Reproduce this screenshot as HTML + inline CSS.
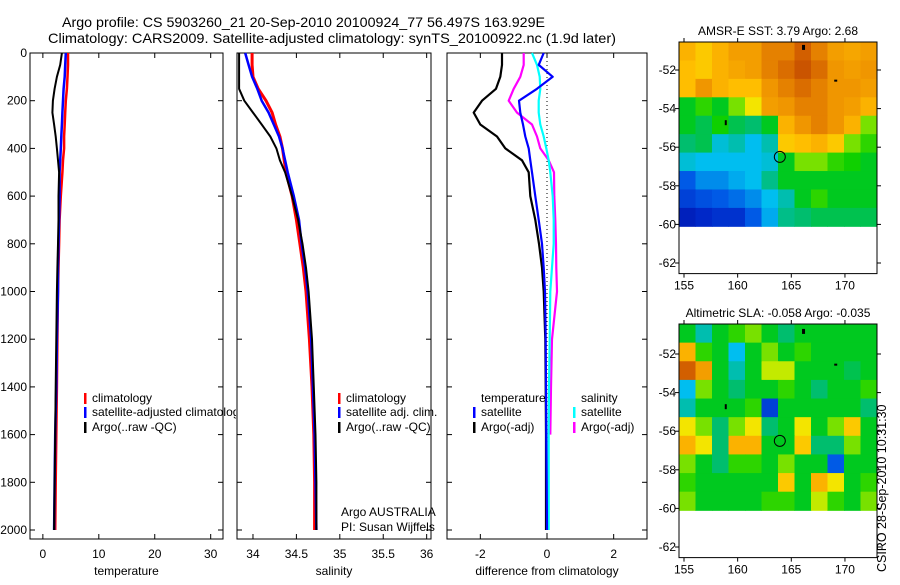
<!DOCTYPE html>
<html><head><meta charset="utf-8"><style>
body{margin:0;background:#fff;width:900px;height:580px;overflow:hidden}
svg{font-family:"Liberation Sans",sans-serif;font-size:12px}
</style></head><body>
<svg id="fig" width="900" height="580" viewBox="0 0 900 580" xmlns="http://www.w3.org/2000/svg">
<text x="62" y="27" font-size="14" textLength="483" lengthAdjust="spacingAndGlyphs">Argo profile: CS 5903260_21 20-Sep-2010 20100924_77 56.497S 163.929E</text>
<text x="48" y="43" font-size="14" textLength="568" lengthAdjust="spacingAndGlyphs">Climatology: CARS2009. Satellite-adjusted climatology: synTS_20100922.nc (1.9d later)</text>
<text x="886" y="572" transform="rotate(-90 886 572)" font-size="12.5">CSIRO 28-Sep-2010 10:31:30</text>
</svg>
<script>
const depths=[0,50,100,150,200,250,300,350,400,450,500,600,700,800,900,1000,1200,1400,1600,1800,2000];
const tempClim=[4.5,4.5,4.4,4.3,4.1,4.0,3.9,3.8,3.8,3.6,3.5,3.2,3.0,2.9,2.8,2.7,2.6,2.5,2.4,2.3,2.2];
const tempSat=[4.1,4.0,3.9,3.7,3.6,3.5,3.4,3.3,3.2,3.1,3.0,3.0,2.9,2.8,2.7,2.7,2.5,2.4,2.2,2.1,2.0];
const tempArgo=[3.4,3.1,2.5,2.1,1.8,1.7,2.0,2.3,2.5,2.7,2.9,2.8,2.8,2.7,2.6,2.5,2.4,2.3,2.2,2.1,2.0];
const salClim=[33.99,33.99,34.0,34.06,34.15,34.22,34.26,34.31,34.34,34.36,34.38,34.45,34.5,34.54,34.58,34.61,34.65,34.68,34.7,34.71,34.71];
const salSat=[33.91,33.95,33.99,34.05,34.1,34.18,34.24,34.3,34.34,34.37,34.4,34.47,34.53,34.56,34.6,34.63,34.67,34.69,34.71,34.72,34.73];
const salArgo=[33.84,33.84,33.84,33.84,33.9,34.0,34.1,34.2,34.27,34.31,34.37,34.45,34.52,34.57,34.61,34.64,34.68,34.7,34.72,34.73,34.73];
const diffTSat=[-0.1,-0.25,0.17,-0.3,-0.84,-0.8,-0.72,-0.65,-0.55,-0.5,-0.45,-0.35,-0.25,-0.15,-0.1,-0.06,-0.04,-0.03,-0.02,-0.01,0.0];
const diffTArgo=[-1.35,-1.35,-1.4,-1.53,-1.95,-2.2,-2.0,-1.5,-1.25,-0.75,-0.55,-0.5,-0.35,-0.24,-0.15,-0.1,-0.05,-0.04,-0.03,-0.03,-0.03];
const diffSSat=[-0.45,-0.3,-0.22,-0.2,-0.25,-0.25,-0.2,-0.1,-0.02,0.05,0.1,0.17,0.2,0.2,0.15,0.1,0.08,0.06,0.05,0.05,0.05];
const diffSArgo=[-0.7,-0.7,-0.8,-1.0,-1.15,-0.9,-0.45,-0.3,-0.2,0.05,0.21,0.22,0.25,0.27,0.28,0.3,0.15,0.12,0.1,null,null];
const depthTicks=[0,200,400,600,800,1000,1200,1400,1600,1800,2000];
const tTicks=[0,10,20,30], sTicks=[34,34.5,35,35.5,36], dTicks=[-2,0,2];
const lonTicks=[155,160,165,170], latTicks=[-52,-54,-56,-58,-60,-62];
const sstGrid=[
[0.75,0.7,0.75,0.8,0.8,0.85,0.85,0.9,0.85,0.8,0.78,0.8],
[0.72,0.7,0.75,0.78,0.8,0.85,0.88,0.92,0.88,0.82,0.8,0.82],
[0.72,0.82,0.75,0.72,0.72,0.82,0.85,0.88,0.85,0.82,0.82,0.8],
[0.45,0.5,0.45,0.55,0.65,0.8,0.82,0.85,0.85,0.82,0.8,0.75],
[0.45,0.42,0.48,0.42,0.4,0.45,0.75,0.82,0.85,0.82,0.75,0.55],
[0.4,0.42,0.32,0.35,0.3,0.35,0.7,0.72,0.75,0.7,0.55,0.5],
[0.32,0.3,0.3,0.3,0.3,0.32,0.45,0.55,0.55,0.5,0.48,0.45],
[0.2,0.25,0.25,0.28,0.3,0.38,0.45,0.45,0.45,0.45,0.45,0.45],
[0.15,0.18,0.2,0.22,0.25,0.3,0.35,0.45,0.5,0.45,0.45,0.45],
[0.08,0.1,0.12,0.12,0.2,0.28,0.38,0.4,0.42,0.42,0.42,0.42]];
const slaGrid=[
[0.45,0.35,0.45,0.5,0.55,0.45,0.4,0.45,0.45,0.45,0.45,0.45],
[0.75,0.5,0.45,0.3,0.45,0.55,0.45,0.5,0.45,0.45,0.45,0.45],
[0.9,0.8,0.45,0.35,0.45,0.6,0.6,0.45,0.45,0.45,0.42,0.45],
[0.3,0.55,0.45,0.4,0.45,0.45,0.5,0.45,0.4,0.45,0.45,0.5],
[0.35,0.45,0.45,0.45,0.5,0.15,0.45,0.45,0.45,0.45,0.45,0.4],
[0.65,0.55,0.4,0.55,0.65,0.4,0.45,0.65,0.45,0.55,0.7,0.45],
[0.75,0.65,0.4,0.75,0.75,0.45,0.45,0.7,0.4,0.4,0.55,0.45],
[0.55,0.45,0.4,0.5,0.5,0.45,0.55,0.45,0.45,0.2,0.45,0.45],
[0.5,0.45,0.45,0.45,0.45,0.45,0.7,0.45,0.75,0.65,0.45,0.5],
[0.55,0.45,0.45,0.45,0.45,0.5,0.5,0.45,0.6,0.5,0.45,0.55]];
const argoLon=163.93, argoLat=-56.5;

const NS='http://www.w3.org/2000/svg', svg=document.getElementById('fig');
function el(t,a,p){const e=document.createElementNS(NS,t);for(const k in a)e.setAttribute(k,a[k]);(p||svg).appendChild(e);return e;}
const yD=d=>53+d*0.2385;
const panels=[
 {x0:30,x1:223,vmin:-2.3,vmax:32.2,ticks:tTicks,label:'temperature',name:'temperature'},
 {x0:237,x1:431,vmin:33.816,vmax:36.05,ticks:sTicks,label:'salinity',name:'salinity'},
 {x0:447,x1:647,vmin:-3.0,vmax:3.0,ticks:dTicks,label:'difference from climatology',name:'difference'}];
panels.forEach((p,i)=>{p.sx=v=>p.x0+(v-p.vmin)/(p.vmax-p.vmin)*(p.x1-p.x0);});
function line(p,vals,color,w,name){
  let d='';vals.forEach((v,i)=>{if(v===null)return;d+=(d?'L':'M')+p.sx(v).toFixed(1)+','+yD(depths[i]).toFixed(1);});
  const e=el('path',{d:d,fill:'none',stroke:color,'stroke-width':w,'stroke-linejoin':'round'});
  
  
}
panels.forEach((p,i)=>{
  const g=el('g',{});
  
  
  el('rect',{x:p.x0,y:53,width:p.x1-p.x0,height:486,fill:'none',stroke:'#000','stroke-width':1},g);
  depthTicks.forEach(d=>{const y=yD(d);
    el('line',{x1:p.x0,y1:y,x2:p.x0+5,y2:y,stroke:'#000'},g);
    el('line',{x1:p.x1,y1:y,x2:p.x1-5,y2:y,stroke:'#000'},g);
    if(i==0){const t=el('text',{x:27,y:y+4,'text-anchor':'end'},g);t.textContent=d;}
  });
  p.ticks.forEach(v=>{const x=p.sx(v);
    el('line',{x1:x,y1:539,x2:x,y2:534,stroke:'#000'},g);
    el('line',{x1:x,y1:53,x2:x,y2:58,stroke:'#000'},g);
    const t=el('text',{x:x,y:558,'text-anchor':'middle'},g);t.textContent=v;});
  const xl=el('text',{x:(p.x0+p.x1)/2,y:575,'text-anchor':'middle'},g);xl.textContent=p.label;
  
  
});
line(panels[0],tempClim,'#f00',2.5,'temp-climatology-line');
line(panels[0],tempSat,'#00f',2.5,'temp-satellite-line');
line(panels[0],tempArgo,'#000',2,'temp-argo-line');
line(panels[1],salClim,'#f00',3,'sal-climatology-line');
line(panels[1],salSat,'#00f',2.5,'sal-satellite-line');
line(panels[1],salArgo,'#000',2,'sal-argo-line');
el('line',{x1:panels[2].sx(0),y1:53,x2:panels[2].sx(0),y2:539,stroke:'#000','stroke-dasharray':'1,3'});
line(panels[2],diffTArgo,'#000',2.2,'diff-temp-argo-line');
line(panels[2],diffSArgo,'#f0f',2.2,'diff-sal-argo-line');
line(panels[2],diffSSat,'#0ff',2.2,'diff-sal-satellite-line');
line(panels[2],diffTSat,'#00f',2.2,'diff-temp-satellite-line');
function leg(x,y,color,text,name,clip){
  const g=el('g',{});
  
  
  if(color)el('rect',{x:x,y:y-9,width:2.5,height:11,fill:color},g);
  const t=el('text',{x:x+(color?8:0),y:y},g);t.textContent=text;
  if(clip)t.setAttribute('clip-path','url(#c1)');
}
const cp=el('clipPath',{id:'c1'});el('rect',{x:0,y:0,width:236,height:580},cp);
leg(84,402,'#f00','climatology','legend-temp-climatology');
leg(84,416,'#00f','satellite-adjusted climatology','legend-temp-satellite',true);
leg(84,431,'#000','Argo(..raw -QC)','legend-temp-argo');
leg(338,402,'#f00','climatology','legend-sal-climatology');
leg(338,416,'#00f','satellite adj. clim.','legend-sal-satellite');
leg(338,431,'#000','Argo(..raw -QC)','legend-sal-argo');
leg(481,402,null,'temperature','legend-temperature-header');
leg(473,416,'#00f','satellite','legend-diff-temp-satellite');
leg(473,431,'#000','Argo(-adj)','legend-diff-temp-argo');
leg(581,402,null,'salinity','legend-salinity-header');
leg(573,416,'#0ff','satellite','legend-diff-sal-satellite');
leg(573,431,'#f0f','Argo(-adj)','legend-diff-sal-argo');
leg(341,516,null,'Argo AUSTRALIA','argo-australia-note');
leg(341,531,null,'PI: Susan Wijffels','pi-note');
const cmStops=[[0,[0,0,140]],[0.1,[0,40,200]],[0.2,[0,90,230]],[0.3,[0,190,240]],[0.4,[0,190,110]],[0.47,[0,205,0]],[0.55,[120,225,0]],[0.63,[240,240,0]],[0.72,[255,190,0]],[0.82,[240,150,0]],[0.9,[210,95,0]],[1,[170,40,0]]];
function cmap(v){for(let i=1;i<cmStops.length;i++){if(v<=cmStops[i][0]){const a=cmStops[i-1],b=cmStops[i],f=(v-a[0])/(b[0]-a[0]);return 'rgb('+a[1].map((c,k)=>Math.round(c+(b[1][k]-c)*f)).join(',')+')';}}return 'rgb(170,40,0)';}
function map(top,lat52,title,grid,name){
  const g=el('g',{});
  
  
  const sy=lat=>lat52+(-52-lat)*19.3, sx=lon=>684+(lon-155)*10.73;
  const x0=679,x1=877,yt=top,yb=sy(-62.55),yd=sy(-60.1);
  const rows=grid.length,cols=grid[0].length,ch=(yd-yt)/rows,cw=(x1-x0)/cols;
  grid.forEach((r,i)=>r.forEach((v,j)=>{
    const c=el('rect',{x:x0+j*cw,y:yt+i*ch,width:cw+0.5,height:ch+0.5,fill:cmap(v)},g);
    
    
  }));
  el('rect',{x:x0,y:yt,width:x1-x0,height:yb-yt,fill:'none',stroke:'#000'},g);
  latTicks.forEach(l=>{const y=sy(l);
    el('line',{x1:x0,y1:y,x2:x0-4,y2:y,stroke:'#000'},g);
    el('line',{x1:x1,y1:y,x2:x1+4,y2:y,stroke:'#000'},g);
    const t=el('text',{x:x0-3,y:y+4,'text-anchor':'end'},g);t.textContent=l;});
  lonTicks.forEach(l=>{const x=sx(l);
    el('line',{x1:x,y1:yt,x2:x,y2:yt-4,stroke:'#000'},g);
    el('line',{x1:x,y1:yb,x2:x,y2:yb+4,stroke:'#000'},g);
    const t=el('text',{x:x,y:yb+16,'text-anchor':'middle'},g);t.textContent=l;});
  const tt=el('text',{x:778,y:top-7,'text-anchor':'middle'},g);tt.textContent=title;
  
  
  el('rect',{x:sx(166),y:sy(-50.7),width:3,height:5,fill:'#000'},g);
  el('rect',{x:sx(169),y:sy(-52.5),width:3,height:2,fill:'#000'},g);
  el('rect',{x:sx(158.8),y:sy(-54.6),width:2,height:5,fill:'#000'},g);
  const c=el('circle',{cx:sx(argoLon),cy:sy(argoLat),r:5.5,fill:'none',stroke:'#000'},g);
  
  
}
map(42,70,'AMSR-E SST: 3.79 Argo: 2.68',sstGrid,'sst-map');
map(324,354,'Altimetric SLA: -0.058 Argo: -0.035',slaGrid,'sla-map');
</script>
</body></html>
